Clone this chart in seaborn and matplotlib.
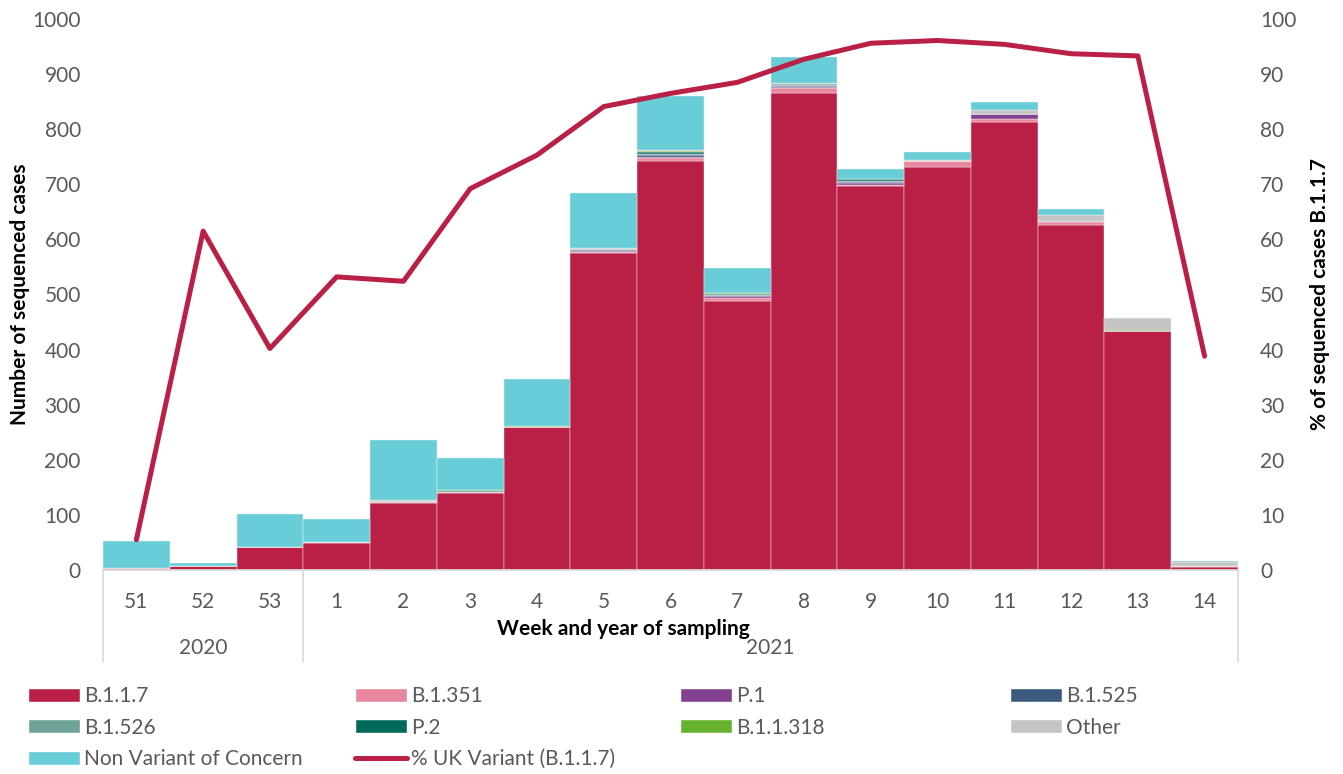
import numpy as np
import pandas as pd
import seaborn as sns
import matplotlib.pyplot as plt
from matplotlib.patches import Patch
from matplotlib.lines import Line2D
import matplotlib.transforms as mtransforms

# week labels and year groups
weeks = ['51', '52', '53', '1', '2', '3', '4', '5', '6', '7', '8', '9', '10', '11', '12', '13', '14']
years = ['2020', '2021']

# counts per variant
b117 = [3, 8, 41, 49, 122, 140, 260, 575, 743, 489, 865, 697, 731, 813, 626, 433, 6]
b1351 = [0, 0, 1, 1, 2, 2, 0, 3, 4, 5, 10, 2, 11, 6, 6, 1, 2]
p1 = [0, 0, 0, 0, 0, 0, 0, 1, 3, 3, 2, 4, 0, 9, 2, 0, 0]
b1525 = [0, 0, 0, 0, 0, 0, 0, 1, 3, 1, 2, 2, 0, 0, 0, 0, 0]
b1526 = [0, 0, 0, 0, 1, 0, 0, 3, 2, 1, 1, 1, 0, 0, 0, 0, 0]
p2 = [0, 0, 0, 0, 0, 2, 0, 0, 3, 2, 2, 3, 0, 0, 0, 0, 0]
b11318 = [0, 0, 0, 0, 0, 1, 1, 0, 2, 2, 0, 1, 0, 0, 0, 1, 0]
other = [0, 0, 0, 0, 2, 0, 0, 2, 2, 0, 2, 0, 2, 6, 10, 22, 7]
non_voc = [50, 5, 60, 43, 109, 59, 86, 99, 98, 46, 47, 18, 15, 16, 11, 1, 1]

# % UK variant line
pct_b117 = [5.5, 61.5, 40.2, 53.2, 52.4, 69.2, 75.3, 84.1, 86.5, 88.5, 92.7, 95.6, 96.1, 95.4, 93.7, 93.3, 38.8]

series = [
    ('B.1.1.7', b117, '#BA2046'),
    ('B.1.351', b1351, '#E8879E'),
    ('P.1', p1, '#83428F'),
    ('B.1.525', b1525, '#3D5A80'),
    ('B.1.526', b1526, '#6FA398'),
    ('P.2', p2, '#006B5B'),
    ('B.1.1.318', b11318, '#66B22E'),
    ('Other', other, '#C4C4C4'),
    ('Non Variant of Concern', non_voc, '#69CDD8'),
]
line_color = '#BA2046'
txt = '#595959'

sns.set_theme(style='white')
plt.rcParams['font.family'] = ['Lato', 'DejaVu Sans']

fig = plt.figure(figsize=(13.43, 7.74), dpi=100)
ax = fig.add_axes([103 / 1343, 1 - 570 / 774, (1238 - 103) / 1343, (570 - 19) / 774])

df = pd.DataFrame({'week': weeks})
bottom = np.zeros(len(weeks))
handles = {}
for name, vals, col in series:
    df['count'] = vals
    sns.barplot(data=df, x='week', y='count', order=weeks, color=col, saturation=1, width=1.0,
                bottom=bottom, edgecolor='#F4F4F4', linewidth=0.3, ax=ax, errorbar=None)
    bottom = bottom + np.array(vals)
    handles[name] = Patch(facecolor=col, label=name)

ax.set_ylim(0, 1000)
ax.set_xlim(-0.5, len(weeks) - 0.5)
ax.set_yticks(range(0, 1001, 100))
ax.tick_params(axis='y', labelsize=15, labelcolor=txt, length=0, pad=16)
ax.tick_params(axis='x', labelsize=15, labelcolor=txt, length=0, pad=16)
ax.set_xlabel('')
ax.set_ylabel('Number of sequenced cases', fontsize=15, fontweight='bold', color='black', labelpad=2)
for s in ['top', 'left', 'right']:
    ax.spines[s].set_visible(False)
ax.spines['bottom'].set_color('#D9D9D9')

# secondary axis with the % line
ax2 = ax.twinx()
line_df = pd.DataFrame({'pos': np.arange(len(weeks)), 'pct': pct_b117})
sns.lineplot(data=line_df, x='pos', y='pct', color=line_color, lw=3.6, ax=ax2,
             solid_capstyle='round', solid_joinstyle='round')
ax2.set_ylim(0, 100)
ax2.set_xlim(-0.5, len(weeks) - 0.5)
ax2.set_yticks(range(0, 101, 10))
ax2.tick_params(axis='y', labelsize=15, labelcolor=txt, length=0, pad=16)
ax2.set_ylabel('% of sequenced cases B.1.1.7', fontsize=15, fontweight='bold', color='black', labelpad=10)
ax2.set_xlabel('')
for s in ['top', 'left', 'right', 'bottom']:
    ax2.spines[s].set_visible(False)
handles['line'] = Line2D([0], [0], color=line_color, lw=3.6, solid_capstyle='round',
                         label='% UK Variant (B.1.1.7)')

# year grouping below axis
trans = mtransforms.blended_transform_factory(ax.transData, ax.transAxes)
for xv in [-0.5, 2.5, 16.5]:
    ax.plot([xv, xv], [0, -0.167], transform=trans, color='#D9D9D9', lw=1.2, clip_on=False)
ax.text(1, -0.142, years[0], transform=trans, ha='center', va='center', fontsize=15, color=txt)
ax.text(9.5, -0.142, years[1], transform=trans, ha='center', va='center', fontsize=15, color=txt)
ax.text(7.3, -0.107, 'Week and year of sampling', transform=trans, ha='center', va='center',
        fontsize=15, fontweight='bold', color='black')

# legend: four columns at fixed positions, read row by row
columns = [['B.1.1.7', 'B.1.526', 'Non Variant of Concern'],
           ['B.1.351', 'P.2', 'line'],
           ['P.1', 'B.1.1.318'],
           ['B.1.525', 'Other']]
col_x = [28, 355, 680, 1010]
for keys, xpix in zip(columns, col_x):
    fig.legend(handles=[handles[k] for k in keys], loc='upper left',
               bbox_to_anchor=(xpix / 1343, 1 - 686 / 774), frameon=False, fontsize=15,
               labelcolor=txt, handlelength=2.5, handleheight=0.67, handletextpad=0.2,
               labelspacing=0.56, borderaxespad=0, borderpad=0)

fig.savefig('out.png', dpi=100)
